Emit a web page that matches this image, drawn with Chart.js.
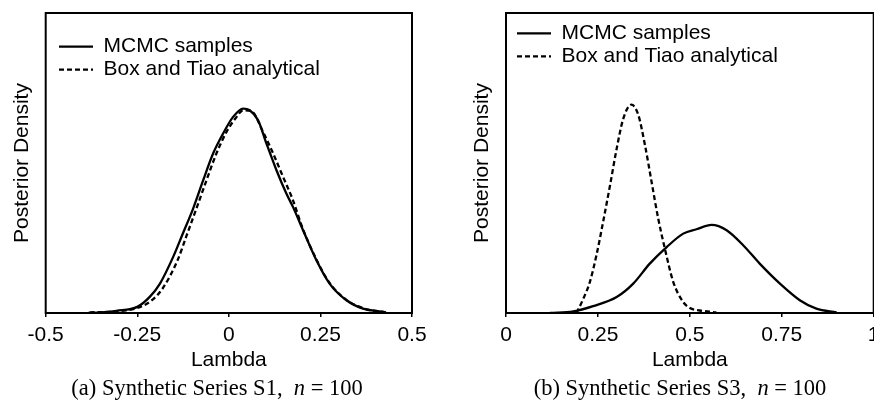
<!DOCTYPE html>
<html><head><meta charset="utf-8">
<script src="https://cdn.jsdelivr.net/npm/chart.js@4"></script>
<style>
html,body{margin:0;padding:0;background:#fff;overflow:hidden;width:874px;height:412px}
#wrap{position:relative;width:874px;height:412px;overflow:hidden}
canvas{position:absolute;top:0}
#ca{left:0}
#cb{left:437px}
.cap{position:absolute;font-family:"Liberation Serif","Times New Roman",serif;font-size:22.5px;color:#000;white-space:pre;transform:translateX(-50%);top:375px;line-height:26px}
</style></head>
<body><div id="wrap">
<canvas id="ca" width="437" height="412"></canvas>
<canvas id="cb" width="470" height="412"></canvas>
<div class="cap" style="left:217px">(a) Synthetic Series S1,  <i>n</i> = 100</div>
<div class="cap" style="left:680px">(b) Synthetic Series S3,  <i>n</i> = 100</div>
</div>
<script>
// ---- Panel (a): Synthetic Series S1 ----
const lambdaA_mcmc = [-0.384,-0.35,-0.307,-0.25,-0.216,-0.188,-0.152,-0.125,-0.0975,-0.070,-0.043,-0.0157,0.0116,0.0389,0.057,0.0798,0.1027,0.13,0.157,0.175,0.2025,0.239,0.275,0.321,0.366,0.421,0.43];
const densA_mcmc   = [0,0.01,0.04,0.11,0.29,0.53,1.01,1.44,1.88,2.39,2.87,3.23,3.53,3.68,3.65,3.47,3.05,2.57,2.15,1.91,1.49,0.95,0.53,0.23,0.08,0.02,0];
const lambdaA_bt   = [-0.38,-0.31,-0.25,-0.21,-0.18,-0.14,-0.115,-0.0885,-0.061,-0.034,-0.0064,0.02,0.039,0.062,0.0934,0.121,0.148,0.175,0.2,0.24,0.275,0.32,0.37,0.43];
const densA_bt     = [0.01,0.03,0.09,0.23,0.45,0.95,1.4,1.88,2.39,2.87,3.26,3.52,3.65,3.63,3.26,2.87,2.45,2.03,1.55,0.95,0.54,0.24,0.08,0.01];
const ticksA = {min:-0.5, max:0.5, step:0.25};

// ---- Panel (b): Synthetic Series S3 ----
const lambdaB_mcmc = [0.12,0.183,0.237,0.301,0.346,0.391,0.437,0.482,0.518,0.559,0.600,0.645,0.690,0.745,0.799,0.844,0.899];
const densB_mcmc   = [0,0.05,0.22,0.51,0.94,1.58,2.11,2.54,2.68,2.82,2.65,2.17,1.58,0.94,0.41,0.14,0.02];
const lambdaB_bt   = [0.192,0.210,0.228,0.246,0.264,0.283,0.301,0.319,0.341,0.360,0.378,0.396,0.414,0.432,0.455,0.482,0.5,0.527,0.572];
const densB_bt     = [0,0.45,0.99,1.85,2.91,4.09,5.26,6.22,6.67,6.33,5.37,4.19,3.02,2.06,0.99,0.35,0.16,0.08,0.02];
const ticksB = {min:0, max:1, step:0.25};

const seriesLabels = ['MCMC samples','Box and Tiao analytical'];
const xTitle = 'Lambda';
const yTitle = 'Posterior Density';

const SANS = '"Liberation Sans", Arial, sans-serif';

const framePlugin = {
  id:'frame',
  afterDatasetsDraw(chart){
    const {ctx, chartArea:{left,top,right,bottom}} = chart;
    ctx.save(); ctx.strokeStyle='#000'; ctx.lineWidth=2;
    ctx.strokeRect(left,top,right-left,bottom-top);
    ctx.restore();
  }
};
const legendPos = {
  id:'legendPos',
  afterLayout(chart, args, opts){
    const lg = chart.legend; if(!lg) return;
    lg.left = opts.x; lg.top = opts.y;
    lg.width = 400; lg.height = 120;
    lg.right = opts.x + 400; lg.bottom = opts.y + 120;
  }
};

function pts(xs, ys){ return xs.map((x,i)=>({x:x, y:ys[i]})); }

function legendLabels(chart){
  const items = Chart.defaults.plugins.legend.labels.generateLabels(chart);
  items.forEach(it=>{
    const ds = chart.data.datasets[it.datasetIndex];
    it.lineDash = ds.borderDash || [];
    it.lineWidth = ds.borderWidth;
    it.strokeStyle = ds.borderColor;
    it.fillStyle = ds.borderColor;
    it.pointStyle = 'line';
  });
  return items;
}

function makeChart(id, cfg){
  const font = {family:SANS, size:21};
  return new Chart(document.getElementById(id), {
    type:'line',
    data:{datasets:[
      {label:seriesLabels[0], data:pts(cfg.mx,cfg.my), borderColor:'#000', borderWidth:2.3, pointRadius:0, fill:false, cubicInterpolationMode:'monotone', borderJoinStyle:'round'},
      {label:seriesLabels[1], data:pts(cfg.bx,cfg.by), borderColor:'#000', borderWidth:2.3, borderDash:[5,3], pointRadius:0, fill:false, cubicInterpolationMode:'monotone', borderJoinStyle:'round'}
    ]},
    options:{
      responsive:false, animation:false, events:[],
      layout:{padding:cfg.pad},
      scales:{
        x:{type:'linear', min:cfg.t.min, max:cfg.t.max,
           ticks:{stepSize:cfg.t.step, color:'#000', font:font, padding:6, maxRotation:0, autoSkip:false,
                  callback:(v)=>String(Math.round(v*100)/100)},
           grid:{display:true, drawOnChartArea:false, drawTicks:true, tickLength:4, color:'#000', lineWidth:1.5},
           border:{display:false},
           title:{display:true, text:xTitle, color:'#000', font:font, padding:{top:0,bottom:4}},
           afterFit(s){ s.height = cfg.xh; s.paddingLeft = 0; s.paddingRight = 0; }
        },
        y:{type:'linear', min:0, max:cfg.ymax,
           ticks:{display:false}, grid:{display:false}, border:{display:false},
           title:{display:true, text:yTitle, color:'#000', font:font, padding:{top:4,bottom:4}},
           afterFit(s){ s.width = cfg.yw; }
        }
      },
      plugins:{
        legend:{display:true, position:'chartArea', align:'start',
          labels:{usePointStyle:true, pointStyle:'line', pointStyleWidth:34, padding:2, color:'#000', font:font,
                  generateLabels:legendLabels}},
        legendPos:{x:cfg.lx, y:cfg.ly},
        tooltip:{enabled:false}
      }
    },
    plugins:[framePlugin, legendPos]
  });
}

makeChart('ca', {mx:lambdaA_mcmc, my:densA_mcmc, bx:lambdaA_bt, by:densA_bt, t:ticksA, ymax:5.4,
  pad:{left:5.7, right:25, top:13, bottom:34.7}, yw:40, xh:64.3, lx:57, ly:34.2});
makeChart('cb', {mx:lambdaB_mcmc, my:densB_mcmc, bx:lambdaB_bt, by:densB_bt, t:ticksB, ymax:9.6,
  pad:{left:29.1, right:33.3, top:13, bottom:34.7}, yw:39.9, xh:64.3, lx:78, ly:20.8});
</script>
</body></html>
